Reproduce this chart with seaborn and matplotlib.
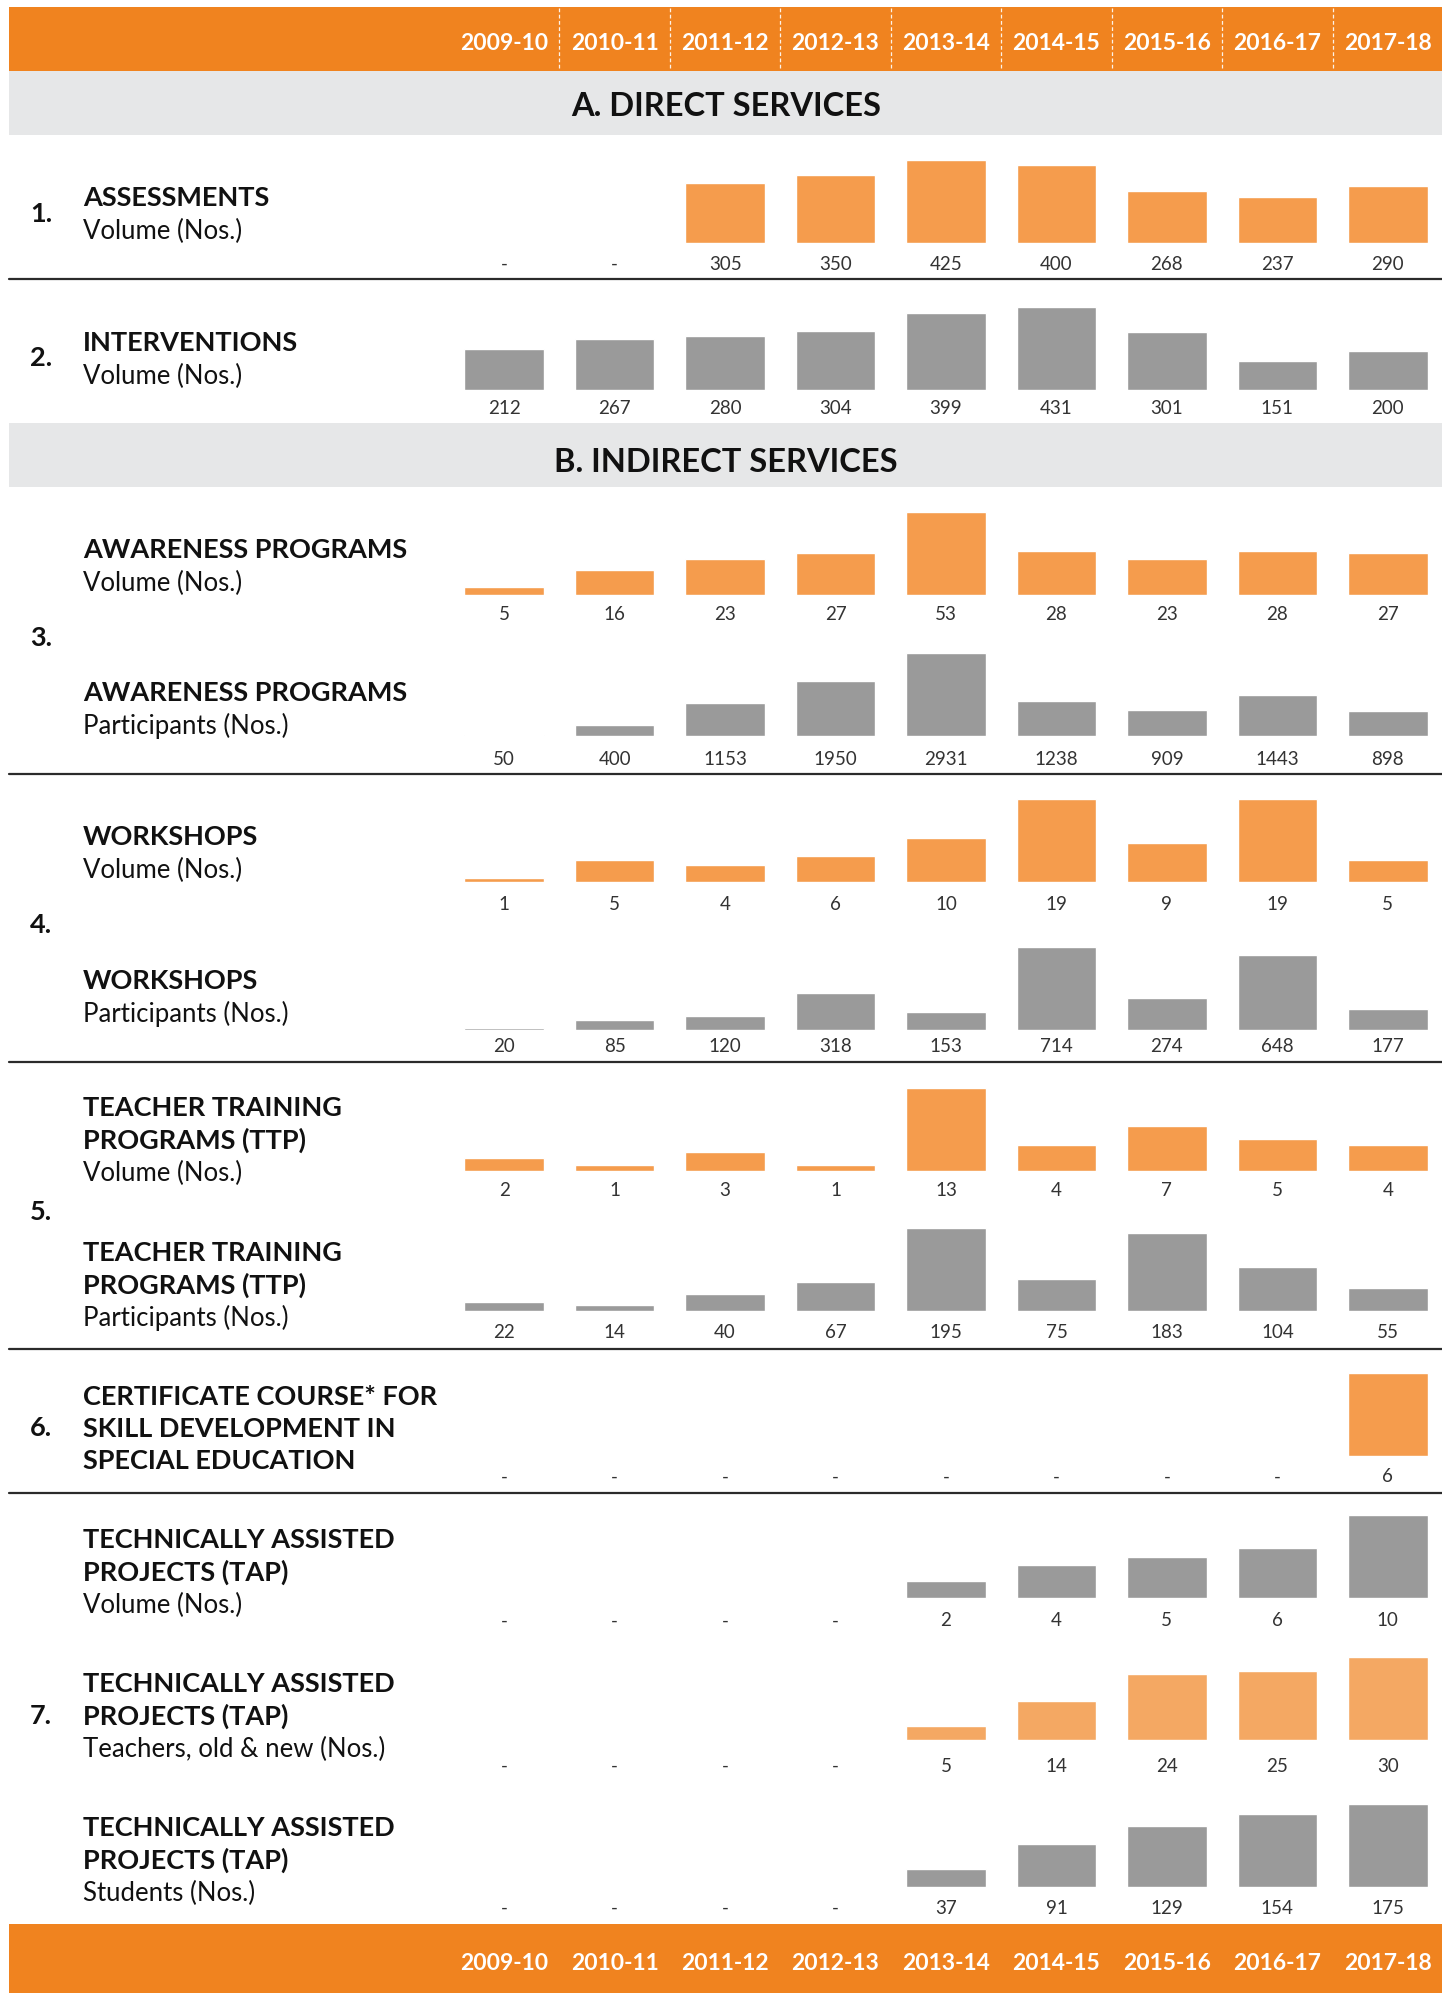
import matplotlib
matplotlib.use("Agg")
import matplotlib.pyplot as plt
from matplotlib.patches import Rectangle
from matplotlib.lines import Line2D
import pandas as pd
import seaborn as sns

# ---- data -------------------------------------------------------------
years = ["2009-10", "2010-11", "2011-12", "2012-13", "2013-14",
         "2014-15", "2015-16", "2016-17", "2017-18"]

assessments = [None, None, 305, 350, 425, 400, 268, 237, 290]
interventions = [212, 267, 280, 304, 399, 431, 301, 151, 200]
awareness_volume = [5, 16, 23, 27, 53, 28, 23, 28, 27]
awareness_participants = [50, 400, 1153, 1950, 2931, 1238, 909, 1443, 898]
workshop_volume = [1, 5, 4, 6, 10, 19, 9, 19, 5]
workshop_participants = [20, 85, 120, 318, 153, 714, 274, 648, 177]
ttp_volume = [2, 1, 3, 1, 13, 4, 7, 5, 4]
ttp_participants = [22, 14, 40, 67, 195, 75, 183, 104, 55]
certificate_course = [None, None, None, None, None, None, None, None, 6]
tap_volume = [None, None, None, None, 2, 4, 5, 6, 10]
tap_teachers = [None, None, None, None, 5, 14, 24, 25, 30]
tap_students = [None, None, None, None, 37, 91, 129, 154, 175]

section_titles = ["A. DIRECT SERVICES", "B. INDIRECT SERVICES"]

# ---- styling ----------------------------------------------------------
sns.set_theme(style="white")
plt.rcParams["font.family"] = ["Lato", "DejaVu Sans"]

ORANGE_BAND = "#F0831F"
ORANGE_BAR = "#F59C4D"
ORANGE_LIGHT = "#F4A863"
GREY_BAR = "#9A9A9A"
GREY_BAND = "#E6E7E8"
TEXT = "#111111"
VALUE_TEXT = "#333333"

W, H = 1442, 1993
fig = plt.figure(figsize=(W / 100, H / 100), dpi=100)
fig.patch.set_facecolor("white")


def fx(x):
    return x / W


def fy(y):
    return 1 - y / H


def band(y0, y1, color, x0=9):
    fig.add_artist(Rectangle((fx(x0), fy(y1)), fx(W) - fx(x0), fy(y0) - fy(y1),
                             transform=fig.transFigure, facecolor=color,
                             edgecolor="none", zorder=0))


def hline(y):
    fig.add_artist(Line2D([fx(9), fx(W)], [fy(y), fy(y)], transform=fig.transFigure,
                          color="#2b2b2b", lw=1.6, zorder=1))


COL_LEFT, COL_RIGHT = 449, 1443
COL_W = (COL_RIGHT - COL_LEFT) / len(years)
BAR_H = 83


def col_center(i):
    return COL_LEFT + COL_W * (i + 0.5)


# ---- header / footer bands with year labels ---------------------------
band(7, 71, ORANGE_BAND)
band(1924, 1993, ORANGE_BAND)
for i, yr in enumerate(years):
    fig.text(fx(col_center(i)), fy(44), yr, color="white", fontsize=16.5,
             fontweight="bold", ha="center", va="center")
    fig.text(fx(col_center(i)), fy(1964), yr, color="white", fontsize=16.5,
             fontweight="bold", ha="center", va="center")
for k in range(1, len(years)):
    x = COL_LEFT + COL_W * k
    fig.add_artist(Line2D([fx(x), fx(x)], [fy(8), fy(70)], transform=fig.transFigure,
                          color="white", lw=0.9, ls=(0, (3, 2)), alpha=0.9))

# ---- section bands ----------------------------------------------------
band(71, 135, GREY_BAND)
fig.text(fx(726), fy(106), section_titles[0], fontsize=23.5, fontweight="bold",
         color=TEXT, ha="center", va="center")
band(423, 487, GREY_BAND)
fig.text(fx(726), fy(463), section_titles[1], fontsize=23.5, fontweight="bold",
         color=TEXT, ha="center", va="center")

for y in [278.5, 774, 1062, 1349, 1493]:
    hline(y)

# ---- rows ---------------------------------------------------------------
# (bold lines, subtitle, values, colour, bar baseline y, label y, first text y)
rows = [
    (["ASSESSMENTS"], "Volume (Nos.)", assessments, ORANGE_BAR, 243, 264, 195),
    (["INTERVENTIONS"], "Volume (Nos.)", interventions, GREY_BAR, 390, 408, 340),
    (["AWARENESS PROGRAMS"], "Volume (Nos.)", awareness_volume, ORANGE_BAR, 595, 615, 547),
    (["AWARENESS PROGRAMS"], "Participants (Nos.)", awareness_participants, GREY_BAR, 736, 759, 690),
    (["WORKSHOPS"], "Volume (Nos.)", workshop_volume, ORANGE_BAR, 882, 904, 834),
    (["WORKSHOPS"], "Participants (Nos.)", workshop_participants, GREY_BAR, 1030, 1046, 978),
    (["TEACHER TRAINING", "PROGRAMS (TTP)"], "Volume (Nos.)", ttp_volume, ORANGE_BAR, 1171, 1190, 1105),
    (["TEACHER TRAINING", "PROGRAMS (TTP)"], "Participants (Nos.)", ttp_participants, GREY_BAR, 1311, 1333, 1250),
    (["CERTIFICATE COURSE* FOR", "SKILL DEVELOPMENT IN", "SPECIAL EDUCATION"], None,
     certificate_course, ORANGE_BAR, 1456, 1477, 1394),
    (["TECHNICALLY ASSISTED", "PROJECTS (TAP)"], "Volume (Nos.)", tap_volume, GREY_BAR, 1598, 1621, 1537),
    (["TECHNICALLY ASSISTED", "PROJECTS (TAP)"], "Teachers, old & new (Nos.)", tap_teachers, ORANGE_LIGHT, 1740, 1766, 1681),
    (["TECHNICALLY ASSISTED", "PROJECTS (TAP)"], "Students (Nos.)", tap_students, GREY_BAR, 1887, 1908, 1825),
]

LINE_STEP = 32
for bold_lines, sub, values, color, base, label_y, text_y in rows:
    y = text_y + 3
    for line in bold_lines:
        fig.text(fx(83), fy(y), line, fontsize=19.5, fontweight="bold", color=TEXT,
                 ha="left", va="center")
        y += LINE_STEP
    if sub:
        fig.text(fx(83), fy(y + 1), sub, fontsize=18.5, fontweight="normal", color=TEXT,
                 ha="left", va="center")

    df = pd.DataFrame({"year": years, "value": values}).dropna()
    ax = fig.add_axes([fx(COL_LEFT), fy(base), (COL_RIGHT - COL_LEFT) / W, BAR_H / H])
    sns.barplot(data=df, x="year", y="value", order=years, color=color,
                saturation=1, width=0.72, errorbar=None, ax=ax)
    vmax = max(v for v in values if v is not None)
    ax.set_ylim(0, vmax)
    ax.set_xlim(-0.5, len(years) - 0.5)
    ax.axis("off")
    for i, v in enumerate(values):
        lbl = "-" if v is None else f"{v}"
        ax.text(i, -(label_y - base) / BAR_H, lbl, transform=ax.get_xaxis_transform(),
                ha="center", va="center", fontsize=13.5, color=VALUE_TEXT, clip_on=False)

# row numbers
for num, y in [("1.", 214), ("2.", 358), ("3.", 638), ("4.", 925),
               ("5.", 1212), ("6.", 1428), ("7.", 1716)]:
    fig.text(fx(30), fy(y), num, fontsize=19.5, fontweight="bold", color=TEXT,
             ha="left", va="center")

fig.savefig("out.png", dpi=100, facecolor="white")
